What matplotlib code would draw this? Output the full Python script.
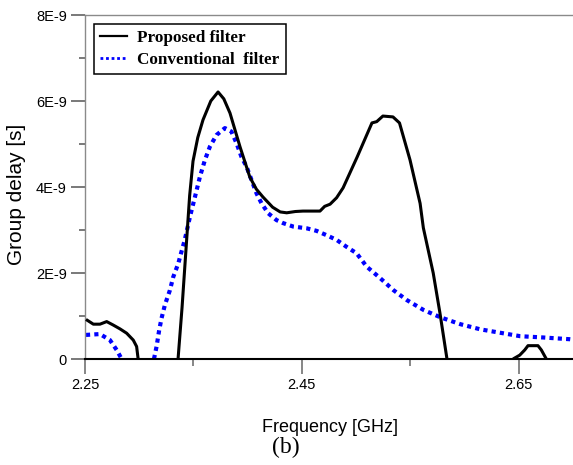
import numpy as np
import matplotlib
matplotlib.use("Agg")
import matplotlib.pyplot as plt
from matplotlib.lines import Line2D
from matplotlib.ticker import FixedLocator, FixedFormatter

nan = np.nan

# proposed filter group delay (ns), segments split by nan where curve drops below 0
freq_prop = [2.2509, 2.2577, 2.2638, 2.270, 2.276, 2.2823, 2.2884, 2.2945, 2.2976, 2.299, nan,
             2.3358, 2.3395, 2.343, 2.3465, 2.3496, 2.354, 2.3588, 2.366, 2.3727, 2.378,
             2.3837, 2.393, 2.402, 2.408, 2.414, 2.423, 2.430, 2.436, 2.444, 2.451, 2.458,
             2.4667, 2.471, 2.476, 2.482, 2.488, 2.501, 2.5146, 2.519, 2.5247, 2.534, 2.540,
             2.5497, 2.559, 2.562, 2.5711, 2.5773, 2.5838, nan,
             2.6447, 2.6509, 2.6555, 2.6585, 2.6677, 2.6708, 2.6754]
delay_prop = [0.92, 0.81, 0.81, 0.87, 0.79, 0.70, 0.60, 0.44, 0.29, 0.0, nan,
              0.0, 1.2, 2.5, 3.8, 4.6, 5.15, 5.56, 6.0, 6.21, 6.05,
              5.72, 4.93, 4.23, 3.95, 3.77, 3.53, 3.42, 3.40, 3.43, 3.44, 3.44,
              3.44, 3.55, 3.60, 3.75, 3.98, 4.70, 5.49, 5.52, 5.65, 5.63, 5.49,
              4.63, 3.62, 3.05, 2.0, 1.07, 0.0, nan,
              0.0, 0.09, 0.21, 0.31, 0.31, 0.21, 0.0]

# conventional filter group delay (ns)
freq_conv = [2.2509, 2.2638, 2.273, 2.2792, 2.2838, nan,
             2.3136, 2.316, 2.3184, 2.3206, 2.3237, 2.3283, 2.3314, 2.336, 2.339, 2.342,
             2.3468, 2.3514, 2.356, 2.3606, 2.3652, 2.3713, 2.379, 2.385, 2.3897, 2.3943,
             2.399, 2.4036, 2.4082, 2.4128, 2.4189, 2.4266, 2.4327, 2.442, 2.4543, 2.4635,
             2.4727, 2.482, 2.4911, 2.5004, 2.5097, 2.5222, 2.5345, 2.5468, 2.5622, 2.5777,
             2.5961, 2.6145, 2.6329, 2.6514, 2.6728, 2.697, 2.70]
delay_conv = [0.56, 0.58, 0.44, 0.21, 0.0, nan,
              0.0, 0.29, 0.67, 0.95, 1.26, 1.60, 1.91, 2.22, 2.50, 2.77,
              3.31, 3.77, 4.24, 4.63, 4.94, 5.21, 5.37, 5.29, 5.02, 4.70,
              4.47, 4.16, 3.85, 3.62, 3.39, 3.23, 3.16, 3.08, 3.04, 2.98,
              2.88, 2.77, 2.61, 2.46, 2.15, 1.88, 1.60, 1.37, 1.14, 0.97,
              0.81, 0.69, 0.61, 0.53, 0.50, 0.46, 0.45]

yticks = [0, 2e-9, 4e-9, 6e-9, 8e-9]
ytick_labels = ["0", "2E-9", "4E-9", "6E-9", "8E-9"]
xticks = [2.25, 2.45, 2.65]
xtick_labels = ["2.25", "2.45", "2.65"]

sans = "Liberation Sans"
serif = "Liberation Serif"

fig = plt.figure(figsize=(5.73, 4.65), dpi=100)
ax = fig.add_axes([85 / 573, 1 - 359 / 465, 488 / 573, 344 / 465])

ax.plot(freq_prop, np.array(delay_prop) * 1e-9, color="black", lw=2.2, zorder=3,
        solid_capstyle="butt", solid_joinstyle="round")
ax.plot(freq_conv, np.array(delay_conv) * 1e-9, color="#0000ff", lw=3.0,
        linestyle=(0, (1, 1)), zorder=2)

ax.set_xlim(2.25, 2.70)
ax.set_ylim(0, 8e-9)

ax.xaxis.set_major_locator(FixedLocator(xticks))
ax.xaxis.set_major_formatter(FixedFormatter(xtick_labels))
ax.xaxis.set_minor_locator(FixedLocator([2.35, 2.55]))
ax.yaxis.set_major_locator(FixedLocator(yticks))
ax.yaxis.set_major_formatter(FixedFormatter(ytick_labels))
ax.yaxis.set_minor_locator(FixedLocator([1e-9, 3e-9, 5e-9, 7e-9]))

ax.tick_params(axis="y", which="major", length=10, width=1.1, color="#555555", pad=3,
               labelsize=10.5)
ax.tick_params(axis="y", which="minor", length=4.5, width=1.1, color="#555555")
ax.tick_params(axis="x", which="major", length=11, width=1.1, color="#666666", pad=3,
               labelsize=10.5)
ax.tick_params(axis="x", which="minor", length=5, width=1.1, color="#666666")
for lab in ax.get_xticklabels() + ax.get_yticklabels():
    lab.set_fontfamily(sans)

ax.spines["right"].set_visible(False)
ax.spines["top"].set_color("#8a8a8a")
ax.spines["top"].set_linewidth(1.0)
ax.spines["left"].set_color("#8a8a8a")
ax.spines["left"].set_linewidth(1.0)
ax.spines["bottom"].set_color("black")
ax.spines["bottom"].set_linewidth(1.5)
ax.spines["bottom"].set_zorder(4)

handles = [Line2D([], [], color="black", lw=1.6),
           Line2D([], [], color="#0000ff", lw=2.0, linestyle=(0, (1, 1)))]
leg = ax.legend(handles, ["Proposed filter", "Conventional  filter"],
                loc="upper left", bbox_to_anchor=(0.018, 0.974), borderaxespad=0,
                prop={"family": serif, "weight": "bold", "size": 12.3},
                handlelength=1.6, handletextpad=0.6, labelspacing=0.35,
                borderpad=0.35, fancybox=False, framealpha=1)
leg.get_frame().set_edgecolor("black")
leg.get_frame().set_linewidth(1.1)

fig.text(17 / 573, 1 - 194 / 465, "Group delay [s]", rotation=90, ha="center",
         va="center", fontsize=15, family=sans)
fig.text(330 / 573, 1 - 427 / 465, "Frequency [GHz]", ha="center", va="center",
         fontsize=13, family=sans)
fig.text(286 / 573, 1 - 447 / 465, "(b)", ha="center", va="center",
         fontsize=17, family=serif)

fig.savefig("out.png", dpi=100)
